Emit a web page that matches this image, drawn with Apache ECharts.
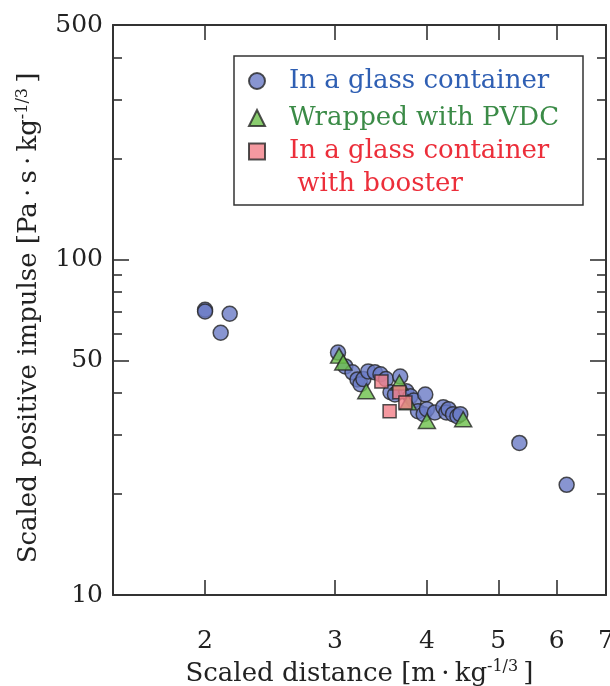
<!DOCTYPE html>
<html><head><meta charset="utf-8">
<script src="https://cdn.jsdelivr.net/npm/echarts@6/dist/echarts.min.js"></script>
<style>html,body{margin:0;padding:0;background:#fff}#c{width:610px;height:686px}</style>
</head><body><div id="c"></div>
<script>
const seriesNames = ['In a glass container', 'Wrapped with PVDC', 'In a glass container\n with booster'];
const glass = [
  [2.00,70.8],[2.00,70.0],[2.16,68.9],[2.10,60.5],[5.34,28.4],[6.19,21.3],
  [3.03,52.8],[3.10,48.0],[3.17,46.1],[3.22,43.9],[3.25,42.5],[3.28,44.0],[3.33,46.4],
  [3.40,46.1],[3.46,45.5],[3.52,44.0],[3.68,44.8],[3.57,40.2],[3.62,39.6],[3.75,40.5],
  [3.80,39.1],[3.84,38.0],[3.98,39.6],[3.89,35.3],[3.96,34.6],[4.00,35.8],[4.10,35.0],
  [4.21,36.3],[4.25,35.0],[4.28,35.8],[4.34,34.6],[4.40,34.1],[4.44,34.6]
];
const pvdc = [[3.04,51.7],[3.08,49.3],[3.31,40.5],[3.67,43.0],[3.77,37.5],[4.00,33.0],[4.48,33.4]];
const booster = [[3.47,43.3],[3.67,40.2],[3.74,37.5],[3.56,35.3]];
const xTicks = [2,3,4,5,6,7];
const yMajor = [10,50,100,500];
const yMinor = [20,30,40,60,70,80,90,200,300,400];
const xRange = [1.5, 7];
const yRange = [10, 500];

const FONT = 'DejaVu Serif';
const AX = '#333';
const chart = echarts.init(document.getElementById('c'), null, {renderer:'canvas'});

function yAx(pos, ticks, len, labels, extra) {
  return Object.assign({
    type:'log', min:yRange[0], max:yRange[1], position:pos,
    axisLine:{show:labels, lineStyle:{color:AX, width:2}},
    axisTick:{show:true, inside:true, length:len, customValues:ticks, lineStyle:{color:AX, width:1.6}},
    axisLabel:{show:labels, customValues:ticks, fontFamily:FONT, fontSize:25, color:'#222', margin:10, showMinLabel:true, showMaxLabel:true},
    splitLine:{show:false}, minorTick:{show:false}
  }, extra||{});
}
function xAx(pos, labels, extra) {
  return Object.assign({
    type:'log', min:xRange[0], max:xRange[1], position:pos,
    axisLine:{show:true, lineStyle:{color:AX, width:2}},
    axisTick:{show:true, inside:true, length:15, customValues:xTicks, lineStyle:{color:AX, width:1.6}},
    axisLabel:{show:labels, customValues:xTicks, fontFamily:FONT, fontSize:25, color:'#222', margin:34, showMinLabel:true, showMaxLabel:true},
    splitLine:{show:false}, minorTick:{show:false}
  }, extra||{});
}

const itemBorder = {borderColor:'#262626', borderWidth:1.5};
const option = {
  animation:false,
  backgroundColor:'#fff',
  grid:{left:113, right:4, top:25, bottom:91, containLabel:false, outerBoundsMode:'none'},
  xAxis:[
    xAx('bottom', true, {
      name:'Scaled distance [m\u2009·\u2009kg{sup|-1/3}\u2009]', nameLocation:'middle', nameGap:52,
      nameTextStyle:{fontFamily:FONT, fontSize:26, color:'#222', lineHeight:30,
        rich:{sup:{fontFamily:FONT, fontSize:16, color:'#222', verticalAlign:'top', lineHeight:18}}}
    }),
    xAx('top', false)
  ],
  yAxis:[
    yAx('left', yMajor, 16, true, {
      name:'Scaled positive impulse [Pa\u2009·\u2009s\u2009·\u2009kg{sup|-1/3}\u2009]', nameLocation:'middle', nameGap:66, nameRotate:90,
      nameTextStyle:{fontFamily:FONT, fontSize:26, color:'#222', lineHeight:30, padding:[0,16,0,0],
        rich:{sup:{fontFamily:FONT, fontSize:16, color:'#222', verticalAlign:'top', lineHeight:18}}}
    }),
    yAx('left', yMinor, 9, false),
    yAx('right', yMajor, 16, false, {axisLine:{show:true, lineStyle:{color:AX, width:2}}}),
    yAx('right', yMinor, 9, false)
  ],
  legend:[
    {data:[
      {name:seriesNames[0], textStyle:{color:'#2f5fb3'}},
      {name:seriesNames[1], textStyle:{color:'#3b8b47'}}
    ], orient:'vertical', left:243, top:61, itemWidth:16, itemHeight:16, itemGap:7,
      selectedMode:false,
      textStyle:{fontFamily:FONT, fontSize:26, lineHeight:30, padding:[0,0,0,19]}},
    {data:[{name:seriesNames[2], textStyle:{color:'#ec2e3a'}}],
      orient:'vertical', left:243, top:97, itemWidth:16, itemHeight:16,
      selectedMode:false,
      formatter:function(n){ return '\n' + n; },
      textStyle:{fontFamily:FONT, fontSize:26, lineHeight:33, padding:[0,0,0,19]}}
  ],
  graphic:[{type:'rect', shape:{x:234, y:56, width:349, height:149},
    style:{fill:null, stroke:'#333', lineWidth:1.5}, z:100}],
  series:[
    {name:seriesNames[0], type:'scatter', data:glass, symbol:'circle', symbolSize:15,
      itemStyle:Object.assign({color:'#6a7bc6'}, itemBorder)},
    {name:seriesNames[1], type:'scatter', data:pvdc, symbol:'triangle', symbolSize:[17,15],
      itemStyle:Object.assign({color:'#6cbf4a'}, itemBorder)},
    {name:seriesNames[2], type:'scatter', data:booster, symbol:'rect', symbolSize:13,
      itemStyle:Object.assign({color:'#f27f88'}, itemBorder)}
  ]
};
chart.setOption(option);
</script></body></html>
